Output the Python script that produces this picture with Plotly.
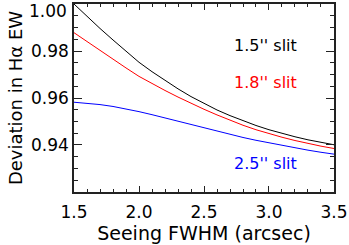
import plotly.graph_objects as go

seeing = [1.5, 1.6, 1.7, 1.8, 1.9, 2.0, 2.1, 2.2, 2.3, 2.4, 2.5,
          2.6, 2.7, 2.8, 2.9, 3.0, 3.1, 3.2, 3.3, 3.4, 3.5]
slit_15 = [1.000, 0.9947, 0.9896, 0.9847, 0.9800, 0.9752, 0.9712, 0.9675, 0.9639, 0.9606, 0.9576,
           0.9549, 0.9525, 0.9503, 0.9483, 0.9465, 0.9449, 0.9435, 0.9422, 0.9411, 0.9401]
slit_18 = [0.9878, 0.9840, 0.9802, 0.9765, 0.9728, 0.9692, 0.9661, 0.9632, 0.9604, 0.9577, 0.9552,
           0.9528, 0.9505, 0.9484, 0.9465, 0.9448, 0.9433, 0.9419, 0.9406, 0.9395, 0.9385]
slit_25 = [0.9582, 0.9578, 0.9572, 0.9564, 0.9554, 0.9542, 0.9529, 0.9515, 0.9500, 0.9485, 0.9471,
           0.9457, 0.9444, 0.9432, 0.9420, 0.9409, 0.9398, 0.9388, 0.9378, 0.9369, 0.9361]
x_ticks = [1.5, 2.0, 2.5, 3.0, 3.5]
x_ticktext = ["1.5", "2.0", "2.5", "3.0", "3.5"]
y_ticks = [0.94, 0.96, 0.98, 1.00]
y_ticktext = ["0.94", "0.96", "0.98", ""]
top_label = "1.00"

series = [("1.5'' slit", slit_15, "#000000", 0.9825),
          ("1.8'' slit", slit_18, "#ff0000", 0.9668),
          ("2.5'' slit", slit_25, "#0000ff", 0.9323)]

FONT = "DejaVu Sans"
fig = go.Figure()
for name, ys, col, ly in series:
    fig.add_trace(go.Scatter(x=seeing, y=ys, mode="lines", name=name,
                             line=dict(color=col, width=1), showlegend=False))
    fig.add_annotation(x=2.715, y=ly, text=name, showarrow=False, xanchor="left",
                       yanchor="middle", font=dict(family=FONT, size=16, color=col))

# top y tick label kept inside the page, as in the original
fig.add_annotation(xref="paper", x=0, y=y_ticks[-1], text=top_label, showarrow=False,
                   xanchor="right", yanchor="middle", xshift=-5, yshift=-7,
                   font=dict(family=FONT, size=17, color="#000"))

fig.update_layout(
    width=349, height=245,
    margin=dict(l=74, r=15, t=4, b=53, autoexpand=False),
    paper_bgcolor="white", plot_bgcolor="white",
    font=dict(family=FONT, size=17, color="#000"),
)
fig.update_xaxes(range=[1.4999, 3.5001], tickvals=x_ticks, ticktext=x_ticktext,
                 ticks="inside", ticklen=6, tickcolor="#222", tickwidth=1,
                 minor=dict(dtick=0.1, ticks="inside", ticklen=3, tickcolor="#222", tickwidth=1),
                 showline=True, linecolor="#222", linewidth=1.5, mirror="allticks",
                 showgrid=False, zeroline=False, automargin=False, ticklabeloverflow="allow",
                 ticklabelstandoff=4,
                 title=dict(text="Seeing FWHM (arcsec)", standoff=0, font=dict(size=19)),
                 tickfont=dict(size=17))
fig.update_yaxes(range=[0.91999, 1.00001], tickvals=y_ticks, ticktext=y_ticktext,
                 ticks="inside", ticklen=8, tickcolor="#222", tickwidth=1,
                 minor=dict(dtick=0.005, ticks="inside", ticklen=4, tickcolor="#222", tickwidth=1),
                 showline=True, linecolor="#222", linewidth=1.5, mirror="allticks",
                 showgrid=False, zeroline=False, automargin=False, ticklabeloverflow="allow",
                 title=dict(text="\u00a0\u00a0Deviation in Hα EW", standoff=4, font=dict(size=18)),
                 tickfont=dict(size=17))

fig.write_html("out.html", config={"displayModeBar": False},
               post_script="document.body.style.margin='0';document.body.style.overflow='hidden';")
